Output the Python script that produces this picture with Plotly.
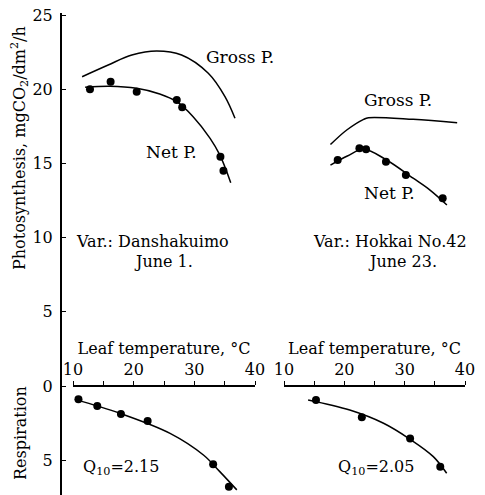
import plotly.graph_objects as go

# ---- Danshakuimo (June 1) ----
d_net_t = [12.8, 16.2, 20.5, 27.1, 28.0, 34.3, 34.8]
d_net_p = [19.99, 20.5, 19.83, 19.27, 18.78, 15.45, 14.51]
d_net_fit_t = [12.0, 16.1, 20.5, 24.3, 27.1, 29.8, 32.6, 34.2, 36.0]
d_net_fit_p = [20.13, 20.2, 20.06, 19.68, 19.16, 18.15, 16.69, 15.57, 13.7]
d_gross_t = [11.5, 15.8, 19.7, 23.8, 27.9, 32.3, 35.05, 36.7]
d_gross_p = [20.84, 21.63, 22.3, 22.57, 22.3, 21.07, 19.5, 18.04]
d_resp_t = [10.9, 14.0, 17.9, 22.3, 33.1, 35.7]
d_resp = [0.9, 1.35, 1.89, 2.36, 5.28, 6.79]
d_resp_fit_t = [10.3, 17.75, 26.0, 31.5, 34.2, 37.0]
d_resp_fit = [0.9, 1.84, 3.19, 4.65, 5.77, 7.0]

# ---- Hokkai No.42 (June 23) ----
h_net_t = [18.9, 22.5, 23.6, 26.9, 30.2, 36.3]
h_net_p = [15.23, 16.02, 15.95, 15.11, 14.22, 12.65]
h_net_fit_t = [17.7, 20.5, 23.2, 27.0, 31.4, 34.2, 37.0]
h_net_fit_p = [14.89, 15.5, 15.95, 15.23, 14.0, 13.2, 12.2]
h_gross_t = [17.7, 20.4, 23.2, 24.0, 31.4, 38.7]
h_gross_p = [16.27, 17.25, 17.97, 18.08, 17.97, 17.74]
h_resp_t = [15.3, 22.9, 30.9, 35.9]
h_resp = [0.94, 2.11, 3.53, 5.44]
h_resp_fit_t = [14.0, 20.9, 26.5, 30.9, 34.75, 36.96]
h_resp_fit = [0.94, 1.62, 2.51, 3.59, 4.76, 5.88]

y_ticks = [25, 20, 15, 10, 5, 0, -5]
y_tick_text = ["25", "20", "15", "10", "5", "0", "5"]

W, H = 485, 495
FONT = "DejaVu Serif"
INK = "black"

fig = go.Figure()


def line(x, y, xa):
    fig.add_trace(go.Scatter(x=x, y=y, xaxis=xa, yaxis="y", mode="lines",
                             line=dict(color=INK, width=1.5, shape="spline",
                                       smoothing=1.0),
                             hoverinfo="skip", showlegend=False))


def dots(x, y, xa):
    fig.add_trace(go.Scatter(x=x, y=y, xaxis=xa, yaxis="y", mode="markers",
                             marker=dict(color=INK, size=8),
                             showlegend=False))


# respiration is plotted downward from zero
neg = lambda v: [-a for a in v]

line(d_gross_t, d_gross_p, "x")
line(d_net_fit_t, d_net_fit_p, "x")
dots(d_net_t, d_net_p, "x")
line(d_resp_fit_t, neg(d_resp_fit), "x")
dots(d_resp_t, neg(d_resp), "x")

line(h_gross_t, h_gross_p, "x2")
line(h_net_fit_t, h_net_fit_p, "x2")
dots(h_net_t, h_net_p, "x2")
line(h_resp_fit_t, neg(h_resp_fit), "x2")
dots(h_resp_t, neg(h_resp), "x2")

px_per_unit = 371 / 25.0
zero_px = 386
y_top = (zero_px - 13) / px_per_unit
y_bot = -(H - zero_px) / px_per_unit

xaxis_common = dict(
    range=[10, 40], anchor="free", position=(H - zero_px) / H,
    side="top", showgrid=False, zeroline=False, showline=True,
    automargin=False,
    linecolor=INK, linewidth=1.5, ticks="outside", ticklen=4,
    tickcolor=INK, tickwidth=1.2, tick0=10, dtick=10,
    minor=dict(ticks="outside", dtick=5, ticklen=4, tickcolor=INK,
               tickwidth=1.2, showgrid=False),
    tickfont=dict(family=FONT, size=16, color=INK),
    title=dict(text="Leaf temperature, °C",
               font=dict(family=FONT, size=16, color=INK), standoff=0),
)

fig.update_layout(
    width=W, height=H,
    margin=dict(l=0, r=0, t=0, b=0),
    paper_bgcolor="white", plot_bgcolor="white",
    xaxis=dict(domain=[73 / W, 255 / W], **xaxis_common),
    xaxis2=dict(domain=[284 / W, 465 / W], **xaxis_common),
    yaxis=dict(
        domain=[0, (H - 13) / H], range=[y_bot, y_top],
        anchor="free", position=61 / W, automargin=False,
        showgrid=False, zeroline=False, showline=True,
        linecolor=INK, linewidth=2, ticks="inside", ticklen=4,
        tickcolor=INK, tickwidth=1.2, tickvals=y_ticks, ticktext=y_tick_text,
        ticklabelstandoff=4,
        tickfont=dict(family=FONT, size=16, color=INK),
    ),
    showlegend=False,
)


def note(text, x, y, xa, size=16):
    fig.add_annotation(text=text, x=x, y=y, xref=xa, yref="y",
                       xanchor="left", yanchor="middle", showarrow=False,
                       borderpad=0,
                       font=dict(family=FONT, size=size, color=INK))


note("Gross P.", 31.76, 22.17, "x", 17)
note("Net P.", 21.87, 15.77, "x", 17)
note("Gross P.", 23.09, 19.27, "x2", 17)
note("Net P.", 23.09, 13.0, "x2", 17)
note("Var.: Danshakuimo", 10.33, 9.77, "x")
note("June 1.", 19.9, 8.42, "x")
note("Var.: Hokkai No.42", 14.64, 9.77, "x2")
note("June 23.", 23.76, 8.42, "x2")
note("Q<sub>10</sub>=2.15", 11.48, -5.46, "x")
note("Q<sub>10</sub>=2.05", 18.78, -5.46, "x2")

for text, yc in [("Photosynthesis, mgCO<sub>2</sub>/dm<sup>2</sup>/h", 148),
                 ("Respiration", 433)]:
    fig.add_annotation(text=text, x=20 / W, y=1 - yc / H, xref="paper",
                       yref="paper", textangle=-90, showarrow=False,
                       xanchor="center", yanchor="middle",
                       font=dict(family=FONT, size=16, color=INK))

fig.write_html("out.html")
